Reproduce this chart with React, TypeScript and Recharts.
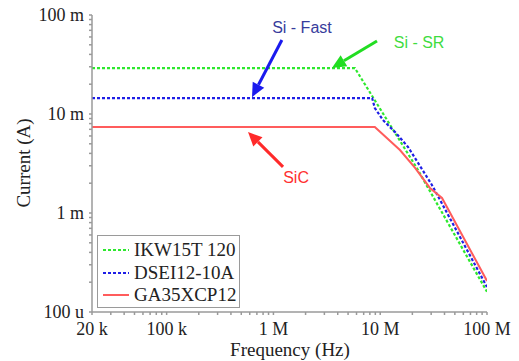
import { LineChart, Line, XAxis, YAxis, ReferenceLine, ReferenceDot } from 'recharts';

const seriesNames = ['IKW15T 120', 'DSEI12-10A', 'GA35XCP12'];
const seriesColors = ['#2ee82e', '#1f1fe6', '#ff5c5c'];
const seriesDash = ['3 2', '3 2', undefined];

const ikwFreq = [2e4, 5.8e6, 2.2e7, 1e8];
const ikwCurrent = [0.029, 0.029, 0.00285, 0.00016];
const dseiFreq = [2e4, 8.4e6, 8.9e6, 1.06e7, 1.37e7, 1.82e7, 3.05e7, 1e8];
const dseiCurrent = [0.0145, 0.0145, 0.0115, 0.0087, 0.0066, 0.00465, 0.00192, 0.000179];
const gaFreq = [2e4, 8.9e6, 1.53e7, 2.12e7, 2.92e7, 3.79e7, 1e8];
const gaCurrent = [0.0074, 0.0074, 0.00433, 0.00285, 0.00179, 0.00142, 0.000206];

const xMajor = [2e4, 1e5, 1e6, 1e7, 1e8];
const xMajorLabels = ['20 k', '100 k', '1 M', '10 M', '100 M'];
const yMajor = [1e-4, 1e-3, 1e-2, 1e-1];
const yMajorLabels = ['100 u', '1 m', '10 m', '100 m'];
const minorSteps = [2, 3, 4, 5, 6, 7, 8, 9];

// annotations (data coordinates: Hz, A)
const noteLabels = ['Si - Fast', 'Si - SR', 'SiC'];
const noteColors = ['#373c9c', '#3fdc3f', '#ff3030'];
const arrowColors = ['#1a1aee', '#22dd22', '#ff2a2a'];
const noteAt = [[1.85e6, 0.0757], [2.31e7, 0.0533], [1.63e6, 0.00231]];
const arrowFrom = [[1.2e6, 0.0559], [9.33e6, 0.0546], [1.23e6, 0.00292]];
const arrowTo = [[6.3e5, 0.0148], [3.53e6, 0.0292], [5.78e5, 0.00658]];

const toRows = (f: number[], c: number[]) => f.map((v, i) => ({ f: v, i: c[i] }));
const series = [toRows(ikwFreq, ikwCurrent), toRows(dseiFreq, dseiCurrent), toRows(gaFreq, gaCurrent)];

const xTicks = [...xMajor, ...[1e4, 1e5, 1e6, 1e7].flatMap((d) => minorSteps.map((m) => m * d)).filter((v) => v > 2e4 && v < 1e8)].sort((a, b) => a - b);
const yTicks = [...yMajor, ...[1e-4, 1e-3, 1e-2].flatMap((d) => minorSteps.map((m) => m * d))].sort((a, b) => a - b);

const font = '"Liberation Serif", "Times New Roman", serif';

function XTick({ x, y, payload }: any) {
  const k = xMajor.indexOf(payload.value);
  if (k < 0) return null;
  return (
    <text x={x} y={y} dy="0.71em" textAnchor="middle" fontFamily={font} fontSize={18} fill="#222">
      {xMajorLabels[k]}
    </text>
  );
}

function YTick({ x, y, payload }: any) {
  const k = yMajor.findIndex((v) => Math.abs(v - payload.value) < v * 1e-6);
  if (k < 0) return null;
  return (
    <text x={x} y={y} dy="0.355em" textAnchor="end" fontFamily={font} fontSize={18} fill="#222">
      {yMajorLabels[k]}
    </text>
  );
}

const arrowShape = (color: string) => (p: any) => {
  const { x1, y1, x2, y2 } = p;
  const dx = x2 - x1, dy = y2 - y1;
  const len = Math.hypot(dx, dy) || 1;
  const ux = dx / len, uy = dy / len;
  const hl = 14, hw = 6.5;
  const bx = x2 - ux * hl, by = y2 - uy * hl;
  return (
    <g>
      <line x1={x1} y1={y1} x2={bx} y2={by} stroke={color} strokeWidth={3} />
      <polygon points={`${x2},${y2} ${bx - uy * hw},${by + ux * hw} ${bx + uy * hw},${by - ux * hw}`} fill={color} />
    </g>
  );
};

const noteShape = (label: string, color: string) => (p: any) => (
  <text x={p.cx} y={p.cy} dy="0.355em" textAnchor="middle" fontFamily='"Liberation Sans", Arial, sans-serif' fontSize={16} fill={color}>
    {label}
  </text>
);

export default function App() {
  return (
    <div style={{ position: 'absolute', left: 0, top: 0, width: 519, height: 361, background: '#fff' }}>
      <LineChart width={519} height={361} margin={{ top: 15, right: 32, bottom: 0, left: 12 }}>
        <XAxis
          type="number"
          dataKey="f"
          scale="log"
          domain={[2e4, 1e8]}
          ticks={xTicks}
          interval={0}
          allowDataOverflow
          height={49}
          stroke="#9a9a9a"
          strokeWidth={1.5}
          tickSize={3}
          tickMargin={7}
          tick={<XTick />}
        />
        <YAxis
          type="number"
          dataKey="i"
          scale="log"
          domain={[1e-4, 1e-1]}
          ticks={yTicks}
          interval={0}
          allowDataOverflow
          width={80}
          stroke="#9a9a9a"
          strokeWidth={1.5}
          tickSize={3}
          tickMargin={5}
          tick={<YTick />}
        />
        {series.map((d, k) => (
          <Line
            key={seriesNames[k]}
            data={d}
            dataKey="i"
            type="linear"
            stroke={seriesColors[k]}
            strokeWidth={k === 2 ? 2 : 2.2}
            strokeDasharray={seriesDash[k]}
            dot={false}
            isAnimationActive={false}
          />
        ))}
        {noteLabels.map((n, k) => (
          <ReferenceLine
            key={'a' + n}
            segment={[{ x: arrowFrom[k][0], y: arrowFrom[k][1] }, { x: arrowTo[k][0], y: arrowTo[k][1] }]}
            shape={arrowShape(arrowColors[k])}
          />
        ))}
        {noteLabels.map((n, k) => (
          <ReferenceDot key={'n' + n} x={noteAt[k][0]} y={noteAt[k][1]} r={0} shape={noteShape(n, noteColors[k])} />
        ))}
      </LineChart>
      <svg width={519} height={361} style={{ position: 'absolute', left: 0, top: 0, pointerEvents: 'none' }}>
        <text x={290} y={356} textAnchor="middle" fontFamily={font} fontSize={19} fill="#222">Frequency (Hz)</text>
        <text x={0} y={0} transform="translate(30,163) rotate(-90)" textAnchor="middle" fontFamily={font} fontSize={19} fill="#222">Current (A)</text>
      </svg>
      <div
        style={{
          position: 'absolute', left: 97, top: 235, width: 143, height: 73, boxSizing: 'border-box',
          border: '1.5px solid #9a9a9a', background: '#fff', paddingTop: 3,
        }}
      >
        {seriesNames.map((n, k) => (
          <div key={n} style={{ display: 'flex', alignItems: 'center', height: 22.5 }}>
            <svg width={32} height={6} style={{ marginLeft: 4 }}>
              <line x1={1} y1={3} x2={27} y2={3} stroke={seriesColors[k]} strokeWidth={2} strokeDasharray={seriesDash[k]} />
            </svg>
            <span style={{ fontFamily: font, fontSize: 19, color: '#222', lineHeight: '22.5px' }}>{n}</span>
          </div>
        ))}
      </div>
    </div>
  );
}
